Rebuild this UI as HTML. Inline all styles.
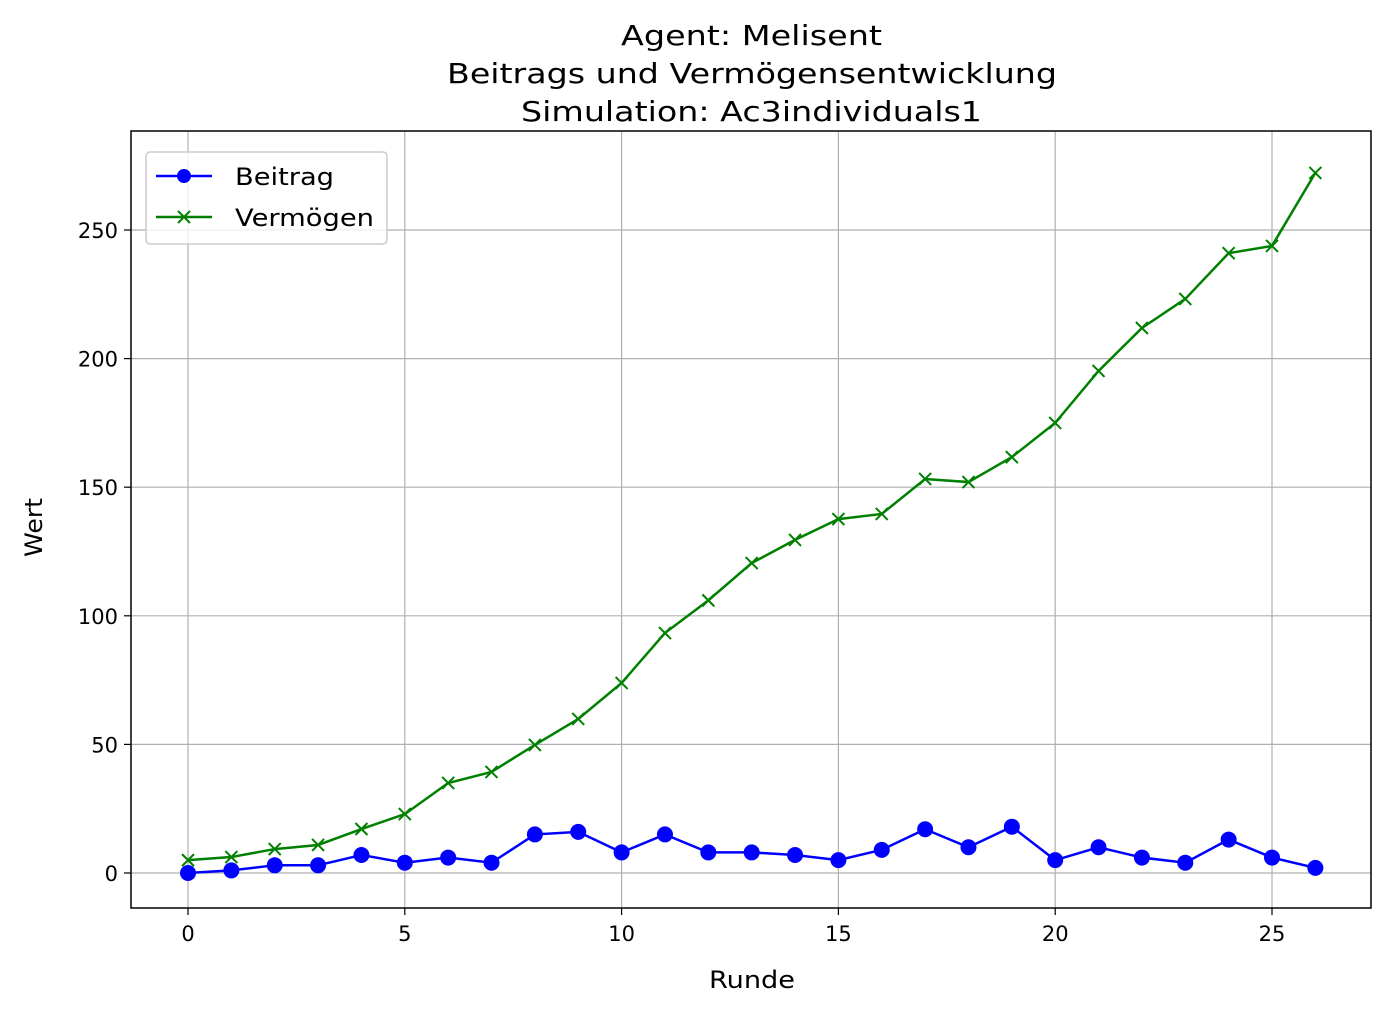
<!DOCTYPE html>
<html><head><meta charset="utf-8">
<style>body{margin:0;background:#fff}svg{display:block;font-family:"DejaVu Sans","Liberation Sans",sans-serif}</style>
</head><body>
<svg id="chart" width="1391" height="1015">
<text x="621" y="45" font-size="28" textLength="261" lengthAdjust="spacingAndGlyphs">Agent: Melisent</text>
<text x="447" y="83" font-size="28" textLength="610" lengthAdjust="spacingAndGlyphs">Beitrags und Vermögensentwicklung</text>
<text x="521" y="121" font-size="28" textLength="461" lengthAdjust="spacingAndGlyphs">Simulation: Ac3individuals1</text>
<text x="709" y="988" font-size="24" textLength="86" lengthAdjust="spacingAndGlyphs">Runde</text>
<text x="42" y="557" font-size="24" textLength="59" lengthAdjust="spacingAndGlyphs" transform="rotate(-90 42 557)">Wert</text>
<g id="grid"></g><g id="ticks"></g><g id="series"></g>
<rect x="131" y="131" width="1240" height="777" fill="none" stroke="#000" stroke-width="1.5"/>
<g>
<rect x="146" y="152" width="241" height="92" rx="4" fill="#fff" fill-opacity="0.8" stroke="#ccc" stroke-width="1.5"/>
<g><line x1="156" y1="176" x2="212" y2="176" stroke="#0000ff" stroke-width="2.5"/><circle cx="184" cy="176" r="7" fill="#0000ff"/><text x="235" y="185" font-size="24" textLength="99" lengthAdjust="spacingAndGlyphs">Beitrag</text></g>
<g><line x1="156" y1="217" x2="212" y2="217" stroke="#008000" stroke-width="2.5"/><path d="M178 211l12 12M190 211l-12 12" stroke="#008000" stroke-width="2"/><text x="235" y="226" font-size="24" textLength="139" lengthAdjust="spacingAndGlyphs">Vermögen</text></g>
</g>
</svg>
<script>
const rounds=[0,1,2,3,4,5,6,7,8,9,10,11,12,13,14,15,16,17,18,19,20,21,22,23,24,25,26];
const beitrag=[0,1,3,3,7,4,6,4,15,16,8,15,8,8,7,5,9,17,10,18,5,10,6,4,13,6,2];
const vermoegen=[5,6.2,9.3,10.9,17.1,22.9,35,39.3,49.8,59.9,73.9,93.3,106,120.5,129.5,137.6,139.6,153.2,152,161.7,175,195.2,211.9,223.2,241,243.8,272.2];
const xTicks=[0,5,10,15,20,25];
const yTicks=[0,50,100,150,200,250];
const X=v=>188+v*(1272-188)/25;
const Y=v=>873-v*(873-230)/250;
const NS='http://www.w3.org/2000/svg';
function mk(tag,attrs,parent){const e=document.createElementNS(NS,tag);for(const k in attrs)e.setAttribute(k,attrs[k]);parent.appendChild(e);return e;}
const grid=document.getElementById('grid'),ticks=document.getElementById('ticks'),series=document.getElementById('series');
xTicks.forEach(t=>{
 let g=mk('line',{x1:X(t),x2:X(t),y1:131,y2:908,stroke:'#b0b0b0','stroke-width':1.2},grid);
 
 mk('line',{x1:X(t),x2:X(t),y1:908,y2:915,stroke:'#000','stroke-width':1.2},ticks);
 let tx=mk('text',{x:X(t),y:941,'font-size':21,'text-anchor':'middle'},ticks);tx.textContent=t;
 
});
yTicks.forEach(t=>{
 let g=mk('line',{x1:131,x2:1371,y1:Y(t),y2:Y(t),stroke:'#b0b0b0','stroke-width':1.2},grid);
 
 mk('line',{x1:124,x2:131,y1:Y(t),y2:Y(t),stroke:'#000','stroke-width':1.2},ticks);
 let tx=mk('text',{x:118,y:Y(t)+8,'font-size':21,'text-anchor':'end'},ticks);tx.textContent=t;
 
});
let pb=mk('polyline',{points:rounds.map((r,i)=>X(r)+','+Y(beitrag[i])).join(' '),fill:'none',stroke:'#0000ff','stroke-width':2.5},series);

let pv=mk('polyline',{points:rounds.map((r,i)=>X(r)+','+Y(vermoegen[i])).join(' '),fill:'none',stroke:'#008000','stroke-width':2.5},series);

rounds.forEach((r,i)=>{
 let c=mk('circle',{cx:X(r),cy:Y(beitrag[i]),r:8,fill:'#0000ff'},series);
 
 const x=X(r),y=Y(vermoegen[i]);
 let m=mk('path',{d:`M${x-6} ${y-6}L${x+6} ${y+6}M${x+6} ${y-6}L${x-6} ${y+6}`,stroke:'#008000','stroke-width':2},series);
 
});
</script>
</body></html>
